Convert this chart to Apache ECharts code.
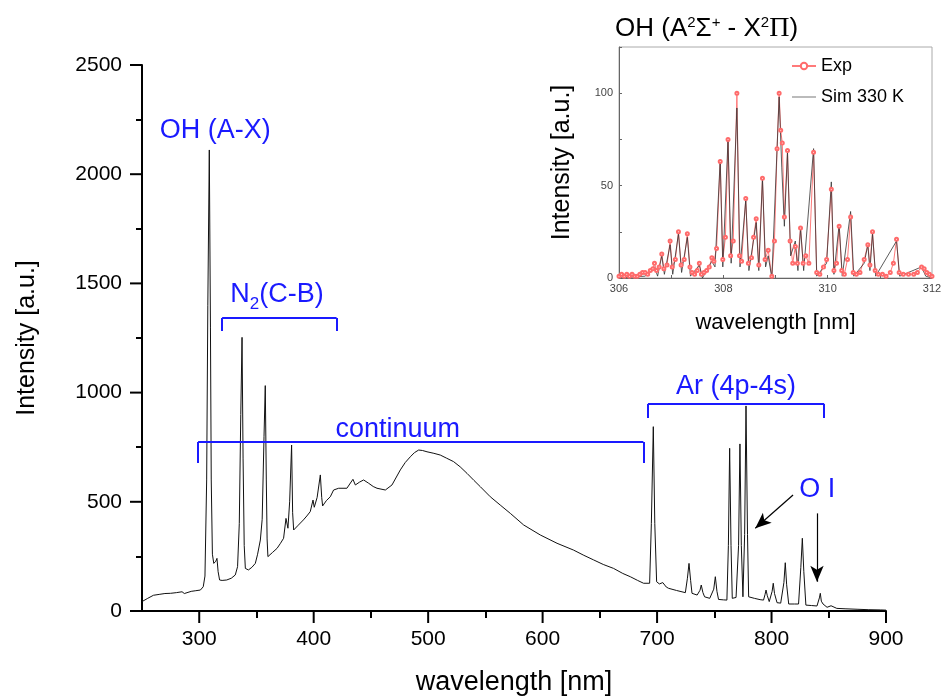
<!DOCTYPE html>
<html>
<head>
<meta charset="utf-8">
<script src="https://cdn.jsdelivr.net/npm/echarts@6/dist/echarts.min.js"></script>
<style>
  html, body { margin: 0; padding: 0; background: #fff; }
  #chart { width: 943px; height: 696px; }
</style>
</head>
<body>
<div id="chart"></div>
<script>
// main spectrum [wavelength nm, intensity a.u.]
var mainSpectrum = [
  [250,43],[255,58],[260,72],[265,76],[270,80],[275,81],[280,84],[285,88],[287,80],[288,89],[293,90],[297,93],
  [301,96],[303.5,111],[305,160],[306.5,600],[307.5,1400],[308.8,2111],[309.8,1300],[310.5,600],[311.5,260],
  [312.7,218],[314.5,228],[315.5,241],[316.5,180],[317.8,142],[320,140],[324,142],[328,150],[331.5,165],[333.5,203],
  [335,400],[336.3,900],[337.4,1253],[338.3,700],[339.3,300],[340.3,195],[343,188],[346,200],[349,218],[351,260],
  [353.4,325],[355,420],[356.6,800],[357.7,1032],[358.6,600],[359.3,330],[360,249],[364,268],[368,287],[371,310],
  [373.7,333],[375.8,424],[377.5,379],[379,500],[380.7,760],[381.6,450],[382.5,371],[386,390],[391,417],[394,435],
  [397,455],[399.4,508],[400.5,475],[401.4,470],[403,520],[405.8,623],[407,520],[407.8,481],[411,505],[414.5,523],
  [417.4,554],[421.8,562],[423.3,569],[429,562],[434.3,603],[436.4,577],[440,590],[443.6,600],[448,585],[452,570],
  [455.3,562],[462.6,554],[468.4,577],[475.7,646],[480,680],[484.4,706],[488,725],[491.7,737],[495,735],[499,729],
  [505,722],[510.6,714],[516,700],[522.2,684],[528,660],[534,630],[540,598],[545.6,569],[554.3,523],[563,485],
  [571.8,447],[583.4,394],[598,348],[612.6,310],[627,279],[636,255],[644.5,234],[653,213],[662,195],[670,172],
  [676.6,157],[683,140],[688.2,127],[693.5,127],[695,400],[696.7,844],[698,400],[699.6,134],[702,124],[705,130],
  [706.5,137],[708,110],[710,104],[717,94],[724.7,84],[726.5,150],[727.9,218],[729.3,140],[730.5,81],[735,73],
  [737.5,95],[738.6,119],[740,85],[741.5,65],[746,58],[749.5,100],[750.9,157],[752.3,90],[753.7,53],[758,51],
  [761,50],[762.3,300],[763.4,745],[764.6,300],[765.7,58],[769,62],[771.2,300],[772.4,765],[773.6,300],[775,65],
  [776.5,350],[777.7,939],[779,350],[780,65],[785,58],[790,52],[793,50],[794.3,75],[795.2,96],[796.3,70],[798,43],
  [800.5,90],[801.5,127],[802.6,80],[804.8,38],[808,36],[810.8,130],[812,221],[813.2,120],[815,32],[820,32],
  [823.6,32],[825.6,200],[826.9,333],[828.2,180],[830,27],[835,25],[839.7,23],[841.8,60],[842.6,81],[843.5,45],
  [845,32],[848.5,17],[852,24],[853.5,15],[857,12],[865,10],[874.7,8],[885,6],[895,5],[900,4]
];

// inset: OH band, measured
var expSpectrum = [
  [306.00,1],[306.05,2],[306.10,1],[306.15,2],[306.20,1],[306.25,2],[306.30,1],[306.35,1],[306.40,2],[306.45,3],
  [306.50,3],[306.55,2],[306.60,4],[306.65,5],[306.68,8],[306.72,4],[306.77,6],[306.82,13],[306.86,5],[306.92,7],
  [306.98,20],[307.02,6],[307.08,10],[307.14,25],[307.19,7],[307.25,10],[307.31,24],[307.36,6],[307.40,3],[307.45,2],
  [307.50,4],[307.54,8],[307.58,2],[307.63,3],[307.68,4],[307.73,6],[307.78,11],[307.82,9],[307.87,16],[307.94,63],
  [307.99,10],[308.04,22],[308.09,75],[308.14,12],[308.19,20],[308.26,100],[308.31,12],[308.35,9],[308.43,43],[308.48,8],
  [308.54,11],[308.58,22],[308.63,32],[308.68,7],[308.75,54],[308.80,10],[308.86,15],[308.93,1],[308.98,20],[309.03,70],
  [309.07,100],[309.10,80],[309.13,73],[309.17,33],[309.23,69],[309.28,20],[309.33,8],[309.38,17],[309.42,8],[309.48,27],
  [309.53,8],[309.58,12],[309.64,8],[309.73,68],[309.79,3],[309.85,2],[309.92,6],[309.98,10],[310.07,48],[310.12,4],
  [310.17,8],[310.22,28],[310.27,4],[310.32,2],[310.38,10],[310.44,33],[310.49,3],[310.55,2],[310.62,3],[310.70,10],
  [310.77,18],[310.81,7],[310.86,25],[310.91,4],[310.97,2],[311.05,2],[311.12,1],[311.20,3],[311.26,8],[311.32,21],
  [311.37,3],[311.45,2],[311.55,2],[311.65,2],[311.72,3],[311.80,6],[311.85,5],[311.90,3],[311.95,2],[312.00,1]
];

// inset: simulation at 330 K
var simSpectrum = [
  [306.0,0],[306.5,1],[306.68,6],[306.74,1],[306.82,12],[306.87,2],[306.98,18],[307.03,2],[307.14,24],[307.20,3],
  [307.31,22],[307.37,1],[307.54,7],[307.60,0],[307.78,9],[307.84,6],[307.94,64],[307.99,6],[308.09,75],[308.15,8],
  [308.26,92],[308.32,6],[308.43,42],[308.49,4],[308.63,30],[308.68,4],[308.75,54],[308.81,6],[308.86,12],[308.93,0],
  [309.07,98],[309.12,60],[309.17,28],[309.23,68],[309.29,12],[309.38,20],[309.43,4],[309.48,27],[309.54,4],[309.73,70],
  [309.79,1],[309.98,8],[310.07,52],[310.12,2],[310.22,29],[310.28,1],[310.44,36],[310.50,1],[310.70,8],[310.77,18],
  [310.81,4],[310.86,24],[310.92,1],[311.32,20],[311.38,1],[311.80,6],[311.88,1],[312.0,0]
];

var xMajorTicks = [300, 400, 500, 600, 700, 800, 900];
var xMinorTicks = [350, 450, 550, 650, 750, 850];
var yMajorTicks = [0, 500, 1000, 1500, 2000, 2500];
var yMinorTicks = [250, 750, 1250, 1750, 2250];

// brackets over the band groups: [from nm, to nm, top, foot]
var brackets = [
  [320, 420, 1342, 1282],
  [299, 688, 774, 678],
  [692, 846, 948, 884]
];
// arrows for O I: [from nm, from value, to nm, to value]
var arrows = [
  [818.8, 531, 785.8, 379],
  [839.7, 447, 839.7, 134]
];
var notes = [
  ['OH (A-X)', 314, 2198],
  ['N{sub|2}(C-B)', 368, 1448],
  ['continuum', 473.5, 829],
  ['Ar (4p-4s)', 769, 1030],
  ['O I', 840, 554]
];

var blue = '#1a1aff';
var font = 'Liberation Sans';

var bracketLines = [];
brackets.forEach(function (b) {
  bracketLines.push([{coord: [b[0], b[3]]}, {coord: [b[0], b[2]]}]);
  bracketLines.push([{coord: [b[0], b[2]]}, {coord: [b[1], b[2]]}]);
  bracketLines.push([{coord: [b[1], b[2]]}, {coord: [b[1], b[3]]}]);
});
var arrowLines = arrows.map(function (a) {
  return [{coord: [a[0], a[1]]}, {coord: [a[2], a[3]]}];
});
var notePoints = notes.map(function (n) {
  return {coord: [n[1], n[2]], label: {formatter: n[0]}};
});

// tick-only axis on the main grid
function tickAxis(pos, min, max, ticks, len) {
  return {
    gridIndex: 0, type: 'value', min: min, max: max, position: pos,
    axisLine: {show: false},
    axisTick: {show: true, customValues: ticks, length: len, lineStyle: {width: 2, color: '#000'}},
    axisLabel: {show: false},
    splitLine: {show: false}
  };
}

var myChart = echarts.init(document.getElementById('chart'));
var option = {
  animation: false,
  backgroundColor: '#fff',
  textStyle: {fontFamily: font},
  title: {
    text: 'OH (A{sup|2}Σ{sup|+} - X{sup|2}{pi|Π})',
    left: 610,
    top: 10,
    textStyle: {
      fontFamily: font, fontSize: 26, fontWeight: 'normal', color: '#000',
      rich: {
        sup: {fontSize: 15, verticalAlign: 'top', lineHeight: 13, fontFamily: font},
        pi: {fontSize: 28, fontFamily: 'Liberation Serif'}
      }
    }
  },
  legend: {
    left: 786,
    top: 52,
    orient: 'vertical',
    itemGap: 13,
    itemWidth: 24,
    itemHeight: 8,
    textStyle: {fontSize: 18, color: '#000', fontFamily: font},
    data: [
      {name: 'Exp'},
      {name: 'Sim 330 K', icon: 'path://M0,0L24,0L24,1L0,1Z'}
    ]
  },
  grid: [
    {left: 142, top: 65, right: 57, bottom: 85, outerBoundsMode: 'none'},
    {left: 619, top: 47, width: 313, height: 231, outerBoundsMode: 'none',
      show: true, borderColor: '#aaa', borderWidth: 1, backgroundColor: '#fff'}
  ],
  xAxis: [
    {
      gridIndex: 0, type: 'value', min: 250, max: 900, position: 'bottom',
      name: 'wavelength [nm]', nameLocation: 'middle', nameGap: 58,
      nameTextStyle: {fontSize: 27, color: '#000'},
      axisLine: {lineStyle: {color: '#000', width: 2}},
      axisTick: {show: false},
      axisLabel: {customValues: xMajorTicks, fontSize: 21, color: '#000', margin: 18},
      splitLine: {show: false}
    },
    tickAxis('bottom', 250, 900, xMinorTicks, 7),
    {
      gridIndex: 1, type: 'value', min: 306, max: 312, interval: 1, position: 'bottom',
      name: 'wavelength [nm]', nameLocation: 'middle', nameGap: 34,
      nameTextStyle: {fontSize: 22, color: '#000'},
      axisLine: {lineStyle: {color: '#666', width: 1}},
      axisTick: {inside: true, length: 3, lineStyle: {color: '#666'}},
      axisLabel: {
        fontSize: 11, color: '#444', margin: 5,
        formatter: function (v) { return v % 2 === 0 ? v : ''; }
      },
      splitLine: {show: false}
    }
  ],
  yAxis: [
    {
      gridIndex: 0, type: 'value', min: 0, max: 2500, interval: 500, position: 'left',
      name: 'Intensity [a.u.]', nameLocation: 'middle', nameGap: 102,
      nameTextStyle: {fontSize: 25, color: '#000'},
      axisLine: {show: true, lineStyle: {color: '#000', width: 2}},
      axisTick: {show: false},
      axisLabel: {fontSize: 21, color: '#000', margin: 20, formatter: function (v) { return String(v); }},
      splitLine: {show: false}
    },
    {
      gridIndex: 1, type: 'value', min: 0, max: 125, interval: 25,
      name: 'Intensity [a.u.]', nameLocation: 'middle', nameGap: 44,
      nameTextStyle: {fontSize: 25, color: '#000'},
      axisLine: {show: true, lineStyle: {color: '#666', width: 1}},
      axisTick: {show: true, inside: true, length: 3, lineStyle: {color: '#666'}},
      axisLabel: {
        fontSize: 11, color: '#444', margin: 6,
        formatter: function (v) { return v % 50 === 0 && v <= 100 ? v : ''; }
      },
      splitLine: {show: false}
    },
    tickAxis('left', 0, 2500, yMinorTicks, 6)
  ],
  series: [
    {
      name: 'spectrum',
      type: 'line',
      xAxisIndex: 0, yAxisIndex: 0,
      data: mainSpectrum,
      symbol: 'none',
      lineStyle: {color: '#111', width: 1},
      markLine: {
        silent: true,
        symbol: ['none', 'none'],
        label: {show: false},
        lineStyle: {color: blue, width: 2, type: 'solid'},
        data: bracketLines
      },
      markPoint: {
        silent: true,
        symbol: 'circle',
        symbolSize: 1,
        itemStyle: {color: 'rgba(0,0,0,0)'},
        label: {
          show: true, position: 'inside', color: blue, fontSize: 27, fontFamily: font, lineHeight: 36,
          rich: {sub: {fontSize: 17, lineHeight: 17, verticalAlign: 'bottom', color: blue}}
        },
        data: notePoints
      }
    },
    {
      name: 'arrows',
      type: 'line',
      xAxisIndex: 0, yAxisIndex: 0,
      data: [],
      markLine: {
        silent: true,
        symbol: ['none', 'arrow'],
        symbolSize: [10, 16],
        label: {show: false},
        lineStyle: {color: '#000', width: 1.2, type: 'solid'},
        data: arrowLines
      }
    },
    {
      name: 'Exp',
      type: 'line',
      xAxisIndex: 2, yAxisIndex: 1,
      data: expSpectrum,
      symbol: 'emptyCircle',
      symbolSize: 3,
      showAllSymbol: true,
      itemStyle: {color: '#ff6b6b'},
      lineStyle: {color: '#ff7a7a', width: 1}
    },
    {
      name: 'Sim 330 K',
      type: 'line',
      xAxisIndex: 2, yAxisIndex: 1,
      data: simSpectrum,
      symbol: 'none',
      itemStyle: {color: '#777'},
      lineStyle: {color: '#333', width: 1, opacity: 0.8}
    }
  ]
};
myChart.setOption(option);

// major ticks of the main axes as small filled bars, placed through the axis scales
var x0 = myChart.convertToPixel({xAxisIndex: 0}, 250);
var y0 = myChart.convertToPixel({yAxisIndex: 0}, 0);
var tickMarks = [];
xMajorTicks.forEach(function (v) {
  var px = myChart.convertToPixel({xAxisIndex: 0}, v);
  tickMarks.push({type: 'rect', silent: true, z: 100,
    shape: {x: px - 1, y: y0, width: 2, height: 12},
    style: {fill: '#000'}});
});
yMajorTicks.forEach(function (v) {
  var py = myChart.convertToPixel({yAxisIndex: 0}, v);
  tickMarks.push({type: 'rect', silent: true, z: 100,
    shape: {x: x0 - 12, y: py - 1, width: 12, height: 2},
    style: {fill: '#000'}});
});
myChart.setOption({graphic: {elements: tickMarks}});
</script>
</body>
</html>
